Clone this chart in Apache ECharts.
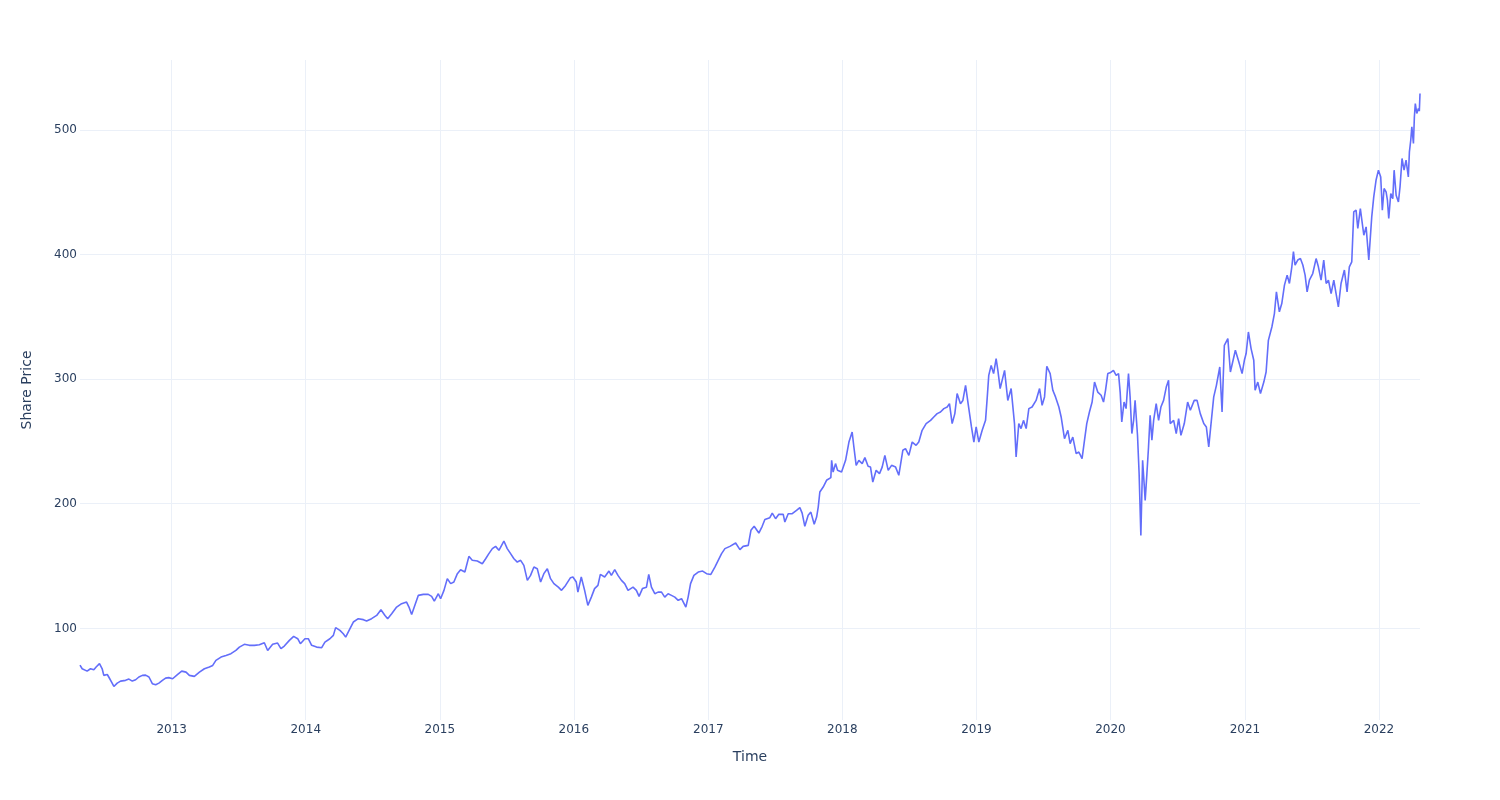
<!DOCTYPE html>
<html>
<head>
<meta charset="utf-8">
<script src="https://cdn.jsdelivr.net/npm/echarts@6/dist/echarts.min.js"></script>
<style>
html,body{margin:0;padding:0;background:#fff;}
#chart{width:1500px;height:800px;}
</style>
</head>
<body>
<div id="chart"></div>
<script>
// Time as decimal years
const years = [
2012.318,2012.334,2012.371,2012.396,2012.421,2012.438,2012.463,2012.483,2012.495,2012.521,2012.532,2012.553,2012.570,2012.595,2012.620,2012.657,2012.682,2012.707,2012.732,2012.756,2012.782,2012.806,2012.831,2012.856,2012.881,2012.905,2012.931,2012.955,2012.978,
2013.007,2013.045,2013.075,2013.107,2013.132,2013.169,2013.207,2013.244,2013.281,2013.306,2013.330,2013.368,2013.405,2013.442,2013.479,2013.505,2013.542,2013.579,2013.617,2013.654,2013.691,2013.716,2013.753,2013.790,2013.815,2013.840,2013.878,2013.910,2013.940,2013.960,2013.994,
2014.019,2014.044,2014.081,2014.119,2014.143,2014.180,2014.206,2014.223,2014.255,2014.280,2014.298,2014.330,2014.355,2014.392,2014.430,2014.454,2014.491,2014.529,2014.561,2014.591,2014.611,2014.641,2014.678,2014.715,2014.752,2014.770,2014.790,2014.814,2014.840,2014.877,2014.914,2014.939,2014.959,2014.989,
2015.006,2015.031,2015.056,2015.081,2015.105,2015.131,2015.155,2015.187,2015.217,2015.242,2015.280,2015.317,2015.342,2015.366,2015.392,2015.416,2015.441,2015.478,2015.503,2015.528,2015.553,2015.578,2015.603,2015.627,2015.653,2015.677,2015.702,2015.727,2015.752,2015.776,2015.802,2015.826,2015.851,2015.884,2015.908,2015.938,2015.975,2015.993,
2016.018,2016.030,2016.055,2016.080,2016.104,2016.130,2016.154,2016.179,2016.197,2016.229,2016.261,2016.279,2016.304,2016.328,2016.354,2016.378,2016.403,2016.440,2016.465,2016.485,2016.510,2016.540,2016.557,2016.577,2016.602,2016.626,2016.652,2016.676,2016.701,2016.726,2016.751,2016.776,2016.801,2016.833,2016.850,2016.868,2016.893,2016.925,2016.958,2016.987,
2017.019,2017.049,2017.074,2017.099,2017.124,2017.161,2017.204,2017.236,2017.260,2017.298,2017.318,2017.342,2017.377,2017.402,2017.422,2017.459,2017.477,2017.502,2017.526,2017.559,2017.571,2017.596,2017.626,2017.658,2017.683,2017.700,2017.720,2017.745,2017.765,2017.790,2017.808,2017.820,2017.832,2017.857,2017.882,2017.914,2017.920,2017.931,2017.949,2017.964,2017.994,
2018.024,2018.049,2018.073,2018.086,2018.103,2018.123,2018.148,2018.168,2018.192,2018.210,2018.227,2018.252,2018.277,2018.297,2018.317,2018.342,2018.367,2018.397,2018.421,2018.451,2018.471,2018.496,2018.521,2018.550,2018.570,2018.595,2018.625,2018.658,2018.682,2018.707,2018.732,2018.757,2018.782,2018.799,2018.819,2018.839,2018.856,2018.881,2018.899,2018.919,2018.938,2018.963,2018.981,2018.998,
2019.018,2019.043,2019.068,2019.080,2019.092,2019.110,2019.128,2019.147,2019.160,2019.177,2019.210,2019.234,2019.259,2019.284,2019.296,2019.316,2019.333,2019.351,2019.371,2019.391,2019.415,2019.445,2019.471,2019.490,2019.508,2019.525,2019.550,2019.570,2019.590,2019.615,2019.632,2019.657,2019.682,2019.699,2019.719,2019.744,2019.764,2019.788,2019.806,2019.823,2019.843,2019.863,2019.881,2019.905,2019.930,2019.948,2019.963,2019.980,2019.997,
2020.022,2020.042,2020.060,2020.072,2020.084,2020.101,2020.116,2020.134,2020.146,2020.159,2020.172,2020.183,2020.201,2020.213,2020.226,2020.239,2020.251,2020.258,2020.271,2020.283,2020.295,2020.308,2020.321,2020.340,2020.358,2020.375,2020.395,2020.415,2020.432,2020.444,2020.470,2020.489,2020.507,2020.524,2020.549,2020.574,2020.594,2020.623,2020.644,2020.668,2020.694,2020.713,2020.731,2020.748,2020.768,2020.788,2020.813,2020.830,2020.847,2020.873,2020.892,2020.929,2020.955,2020.979,2020.996,
2021.009,2021.026,2021.046,2021.066,2021.076,2021.096,2021.116,2021.141,2021.158,2021.175,2021.201,2021.220,2021.235,2021.257,2021.275,2021.295,2021.315,2021.332,2021.350,2021.362,2021.374,2021.394,2021.414,2021.432,2021.449,2021.464,2021.481,2021.506,2021.531,2021.548,2021.568,2021.588,2021.606,2021.623,2021.643,2021.663,2021.680,2021.697,2021.717,2021.742,2021.762,2021.779,2021.797,2021.812,2021.829,2021.842,2021.861,2021.887,2021.904,2021.924,2021.946,2021.961,2021.978,2021.996,
2022.013,2022.025,2022.038,2022.053,2022.063,2022.073,2022.088,2022.103,2022.113,2022.128,2022.145,2022.157,2022.172,2022.187,2022.202,2022.219,2022.227,2022.237,2022.245,2022.257,2022.264,2022.271,2022.282,2022.294,2022.301,2022.306
];
const prices = [
70.5,67.6,65.7,67.6,66.8,69.0,71.7,67.6,62.3,63.0,61.0,56.9,53.4,56.1,57.7,58.3,59.3,57.7,58.8,61.0,62.3,62.5,61.0,55.6,54.8,56.1,58.3,60.1,60.5,
59.6,63.1,65.7,64.9,62.3,61.5,64.9,67.6,69.0,70.3,74.3,77.0,78.3,79.7,82.3,85.0,87.2,86.4,86.4,86.9,88.5,82.3,87.2,88.2,83.7,85.8,90.4,93.6,91.7,87.7,91.7,
91.7,86.4,85.0,84.5,89.0,91.7,94.4,100.6,98.4,95.7,93.0,99.8,105.1,107.8,107.0,105.9,107.8,110.4,115.0,110.4,107.8,111.8,117.1,119.8,121.1,117.1,111.2,118.5,126.5,127.3,127.3,125.7,121.9,127.8,
123.8,130.5,139.9,135.9,137.2,143.9,147.1,145.2,157.8,154.6,154.0,151.9,155.9,160.0,164.0,165.8,162.6,170.1,164.0,160.0,155.9,153.2,154.6,150.6,138.5,142.5,149.2,147.9,137.2,143.9,147.9,139.9,135.9,133.1,130.5,134.5,140.7,141.2,
137.2,129.1,141.2,130.5,118.5,125.1,131.9,134.5,143.3,141.2,146.0,142.5,147.1,142.5,138.5,135.9,130.5,133.1,130.5,125.7,131.9,133.1,143.3,133.1,127.8,129.1,129.1,125.1,127.8,126.5,125.1,122.5,123.8,117.1,125.1,135.9,142.5,145.2,146.0,143.9,
143.3,149.2,154.6,160.0,164.0,165.8,168.5,163.2,165.8,166.6,178.7,181.9,176.5,181.9,187.3,188.8,192.5,188.0,191.5,191.5,185.3,192.0,192.0,194.7,196.9,192.5,181.9,190.7,193.3,183.5,189.3,197.3,209.4,213.4,218.8,220.9,234.8,225.4,232.2,226.8,225.4,
234.8,249.5,257.5,245.5,230.8,234.8,232.2,237.0,230.0,229.4,217.4,226.8,224.2,229.4,238.8,226.8,230.8,229.4,222.8,242.9,244.2,238.8,249.5,246.9,249.5,258.9,264.3,266.9,269.6,272.3,273.6,276.3,277.6,280.3,264.3,272.3,288.4,280.3,282.9,295.0,280.3,261.6,249.5,261.6,
249.5,258.9,266.9,284.3,303.0,311.0,304.4,316.4,307.0,292.4,307.0,282.9,292.4,264.3,237.5,264.3,260.3,266.9,260.3,276.3,277.6,282.9,292.4,279.0,285.7,310.3,304.4,291.0,285.7,277.6,269.6,252.2,258.9,248.2,253.5,240.2,241.5,236.2,250.9,264.3,273.6,281.6,297.6,289.6,287.0,281.6,291.0,304.4,305.0,
307.0,303.0,304.4,289.6,265.6,281.6,276.3,304.4,285.7,256.3,266.9,282.9,254.9,224.2,174.6,234.8,214.8,202.7,224.2,245.5,270.9,250.9,266.9,280.3,266.9,277.6,282.9,293.6,299.0,264.3,266.9,256.3,268.3,254.9,264.3,281.6,275.0,282.9,282.9,272.3,264.3,261.6,245.5,264.3,285.7,295.0,309.7,273.6,327.1,332.5,305.7,323.1,313.7,304.4,315.1,
320.5,337.8,324.5,315.1,291.0,297.6,288.4,297.6,305.7,331.1,341.8,352.6,370.0,354.0,360.6,375.4,383.4,376.7,390.1,402.2,391.5,395.5,396.7,391.5,383.4,370.0,379.4,384.7,396.7,390.1,379.4,395.5,376.7,379.4,368.6,379.4,368.6,357.9,376.7,387.5,370.0,390.1,394.1,434.2,435.5,420.8,436.8,415.4,422.1,395.5,430.1,446.2,459.5,467.6,
462.2,435.5,452.9,450.2,443.5,428.8,448.9,444.8,467.6,447.5,442.1,454.2,477.0,467.6,475.6,462.2,482.3,491.6,502.3,489.0,510.3,521.1,513.1,517.1,515.0,529.1
];
const yTicks = [100, 200, 300, 400, 500];
const xTickYears = [2013, 2014, 2015, 2016, 2017, 2018, 2019, 2020, 2021, 2022];

function yearToTs(y) {
  const Y = Math.floor(y);
  const a = Date.UTC(Y, 0, 1), b = Date.UTC(Y + 1, 0, 1);
  return a + (y - Y) * (b - a);
}
const seriesData = years.map((y, i) => [yearToTs(y), prices[i]]);
const xTicks = xTickYears.map(y => Date.UTC(y, 0, 1));

const font = 'DejaVu Sans, Verdana, sans-serif';
const textColor = '#2a3f5f';
const gridColor = '#EBF0F8';

const chart = echarts.init(document.getElementById('chart'), null, {renderer: 'canvas'});
chart.setOption({
  animation: false,
  backgroundColor: '#ffffff',
  grid: {left: 80, right: 80, top: 60, bottom: 80, containLabel: false},
  xAxis: {
    type: 'value',
    min: seriesData[0][0],
    max: seriesData[seriesData.length - 1][0],
    name: 'Time',
    nameLocation: 'middle',
    nameGap: 30,
    nameTextStyle: {fontFamily: font, fontSize: 14, color: textColor},
    axisLine: {show: false},
    axisTick: {show: false, customValues: xTicks},
    axisLabel: {
      customValues: xTicks,
      formatter: v => String(new Date(v).getUTCFullYear()),
      fontFamily: font, fontSize: 12, color: textColor, margin: 4
    },
    splitLine: {show: true, lineStyle: {color: gridColor, width: 1}}
  },
  yAxis: {
    type: 'value',
    min: 26.5,
    max: 556,
    name: 'Share Price',
    nameLocation: 'middle',
    nameGap: 46,
    nameTextStyle: {fontFamily: font, fontSize: 14, color: textColor},
    axisLine: {show: false},
    axisTick: {show: false, customValues: yTicks},
    axisLabel: {customValues: yTicks, fontFamily: font, fontSize: 12, color: textColor, margin: 3},
    splitLine: {show: true, lineStyle: {color: gridColor, width: 1}}
  },
  series: [{
    type: 'line',
    data: seriesData,
    showSymbol: false,
    symbol: 'none',
    lineStyle: {color: '#636efa', width: 1.6},
    itemStyle: {color: '#636efa'}
  }]
});
</script>
</body>
</html>
